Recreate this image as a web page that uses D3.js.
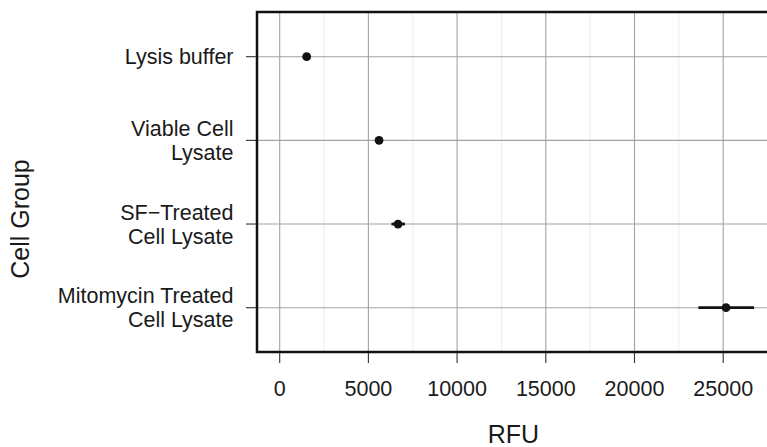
<!DOCTYPE html>
<html><head><meta charset="utf-8">
<script src="https://cdn.jsdelivr.net/npm/d3@7"></script>
<style>body{margin:0;background:#fff}svg{display:block}text{font-family:"Liberation Sans",Arial,Helvetica,sans-serif;fill:#1a1a1a}</style>
</head><body><svg id="c" width="767" height="447"></svg>
<script>
const categories = [["Lysis buffer"],["Viable Cell","Lysate"],["SF\u2212Treated","Cell Lysate"],["Mitomycin Treated","Cell Lysate"]];
const means = [1520, 5600, 6670, 25160];
const lows  = [1440, 5450, 6300, 23600];
const highs = [1600, 5750, 7060, 26740];
const xTicks = [0, 5000, 10000, 15000, 20000, 25000];
const xMinor = [-2500, 2500, 7500, 12500, 17500, 22500, 27500];

const svg = d3.select("#c");
const L = 257, T = 12, B = 352, R = 782;
const x = d3.scaleLinear().domain([0, 5000]).range([279.7, 368.4]);
const y = d3.scalePoint().domain(d3.range(categories.length)).range([56.7, 307.7]);

svg.append("defs").append("clipPath").attr("id","pc").append("rect")
  .attr("x",L).attr("y",T).attr("width",R-L).attr("height",B-T);
const g = svg.append("g").attr("clip-path","url(#pc)");
g.selectAll(".mn").data(xMinor).join("line").attr("x1",d=>x(d)).attr("x2",d=>x(d))
  .attr("y1",T).attr("y2",B).attr("stroke","#ececec").attr("stroke-width",1);
g.selectAll(".mx").data(xTicks).join("line").attr("x1",d=>x(d)).attr("x2",d=>x(d))
  .attr("y1",T).attr("y2",B).attr("stroke","#a3a3a3").attr("stroke-width",1.1);
g.selectAll(".my").data(d3.range(categories.length)).join("line").attr("x1",L).attr("x2",R)
  .attr("y1",d=>y(d)).attr("y2",d=>y(d)).attr("stroke","#a3a3a3").attr("stroke-width",1.1);

g.selectAll(".eb").data(means).join("line")
  .attr("x1",(d,i)=>x(lows[i])).attr("x2",(d,i)=>x(highs[i]))
  .attr("y1",(d,i)=>y(i)).attr("y2",(d,i)=>y(i))
  .attr("stroke","#111").attr("stroke-width",2.8);
g.selectAll(".pt").data(means).join("circle")
  .attr("cx",d=>x(d)).attr("cy",(d,i)=>y(i)).attr("r",4.4).attr("fill","#111");

svg.append("rect").attr("x",L).attr("y",T).attr("width",R-L).attr("height",B-T)
  .attr("fill","none").attr("stroke","#111").attr("stroke-width",2.5);

const xa = svg.append("g");
xa.selectAll("line").data(xTicks).join("line").attr("x1",d=>x(d)).attr("x2",d=>x(d))
  .attr("y1",B+1).attr("y2",B+11).attr("stroke","#333").attr("stroke-width",1.1);
xa.selectAll("text").data(xTicks).join("text").attr("x",d=>x(d)).attr("y",396)
  .attr("text-anchor","middle").style("font-size","21.5px").text(d=>d);

const ya = svg.append("g");
ya.selectAll("line").data(d3.range(categories.length)).join("line")
  .attr("x1",246).attr("x2",L-1).attr("y1",d=>y(d)).attr("y2",d=>y(d))
  .attr("stroke","#333").attr("stroke-width",1.1);
const lh = 24;
ya.selectAll("text").data(categories).join("text")
  .attr("text-anchor","end").style("font-size","21.5px")
  .each(function(lines,i){
    const t = d3.select(this);
    const n = lines.length;
    lines.forEach((s,k)=>{
      t.append("tspan").attr("x",233.5)
        .attr("y", y(i) + 7.7 + (k - (n-1)/2)*lh).text(s);
    });
  });

svg.append("text").attr("x",513.5).attr("y",443).attr("text-anchor","middle")
  .style("font-size","25px").text("RFU");
svg.append("text").attr("transform","translate(29,219) rotate(-90)").attr("text-anchor","middle")
  .style("font-size","25px").text("Cell Group");
</script></body></html>
